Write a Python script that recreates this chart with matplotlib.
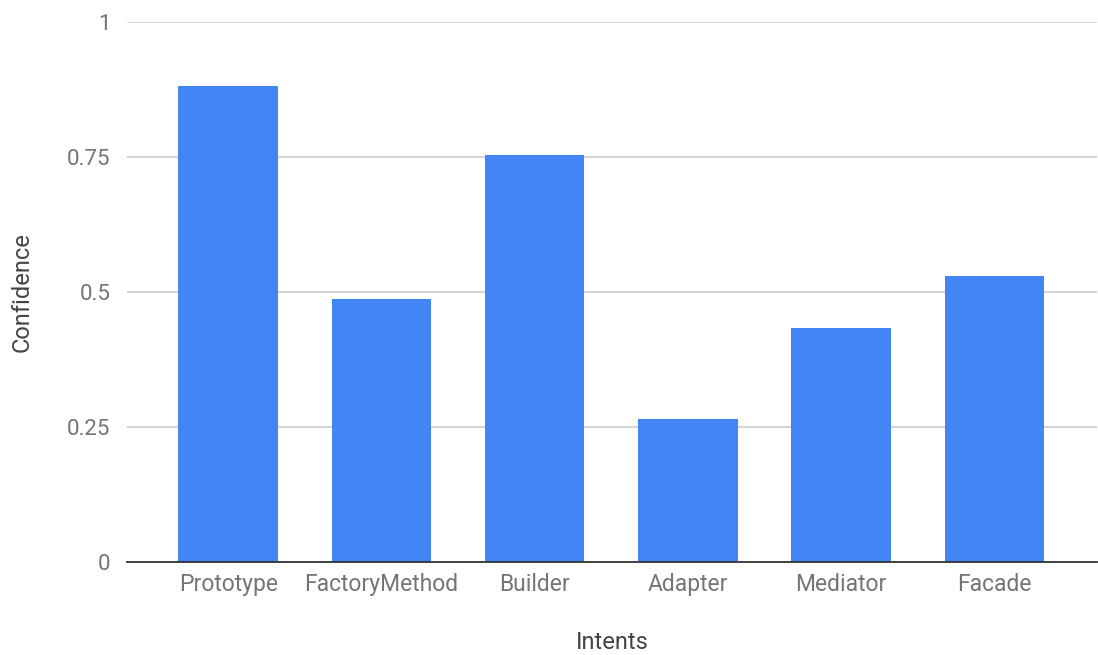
import matplotlib.pyplot as plt
import numpy as np

intents = ['Prototype', 'FactoryMethod', 'Builder', 'Adapter', 'Mediator', 'Facade']
confidence = [0.881, 0.487, 0.753, 0.265, 0.433, 0.529]
yticks = [0, 0.25, 0.5, 0.75, 1]
ytick_labels = ['0', '0.25', '0.5', '0.75', '1']

plt.rcParams['font.family'] = ['Roboto', 'DejaVu Sans']

fig = plt.figure(figsize=(10.98, 6.55), dpi=100)
ax = fig.add_axes([127 / 1098, 1 - 562 / 655, 970 / 1098, (562 - 21.5) / 655])

x = np.arange(len(intents))
ax.bar(x, confidence, width=0.65, color='#4285f4', zorder=3)

ax.set_xlim(-0.66, 5.67)
ax.set_ylim(0, 1)
ax.set_yticks(yticks)
ax.set_yticklabels(ytick_labels)
ax.set_xticks(x)
ax.set_xticklabels(intents)
ax.grid(axis='y', color='#cccccc', linewidth=1.2, zorder=0)
ax.tick_params(axis='both', length=0, labelcolor='#757575')
ax.tick_params(axis='y', pad=12, labelsize=16)
ax.tick_params(axis='x', pad=8, labelsize=16.5)

for s in ['top', 'right', 'left']:
    ax.spines[s].set_visible(False)
ax.spines['bottom'].set_color('#333333')
ax.spines['bottom'].set_linewidth(1.3)
ax.spines['bottom'].set_zorder(4)

ax.set_xlabel('Intents', fontsize=17, color='#444444', labelpad=25)
ax.set_ylabel('Confidence', fontsize=17, color='#444444', labelpad=24)

fig.savefig('out.png', dpi=100, facecolor='white')
